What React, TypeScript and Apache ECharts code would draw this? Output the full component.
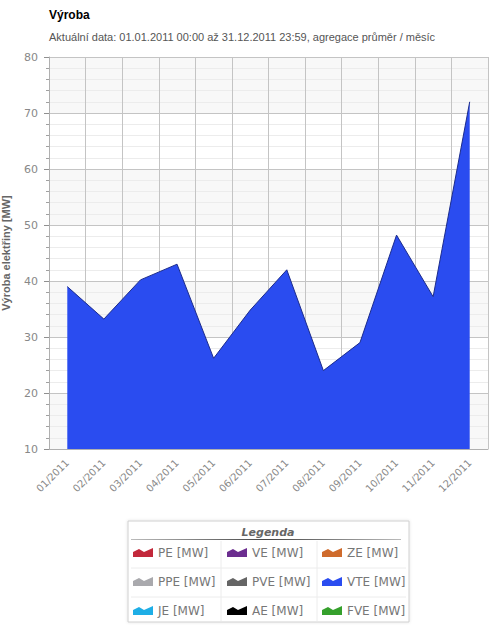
import { useEffect, useRef } from 'react';
import * as echarts from 'echarts';

const months = ['01/2011', '02/2011', '03/2011', '04/2011', '05/2011', '06/2011',
  '07/2011', '08/2011', '09/2011', '10/2011', '11/2011', '12/2011'];
const vteValues = [39, 33.2, 40.2, 43, 26.2, 34.8, 42, 24, 29, 48.2, 37.2, 72];
const legendNames = ['PE [MW]', 'VE [MW]', 'ZE [MW]', 'PPE [MW]', 'PVE [MW]', 'VTE [MW]', 'JE [MW]', 'AE [MW]', 'FVE [MW]'];
const legendColors = ['#c2283b', '#6b2d8f', '#cf6b2c', '#a9a9ad', '#656565', '#2a4cf0', '#1eaee6', '#000000', '#35a02c'];

const FONT = '"Liberation Sans", Arial, sans-serif';
const WIDE = '"DejaVu Sans", Verdana, sans-serif';

const legendGraphic = () => {
  const els: any[] = [
    { type: 'rect', shape: { x: 128, y: 521, width: 281, height: 101 },
      style: { fill: '#fff', stroke: '#d0d0d0', lineWidth: 1, shadowBlur: 3, shadowColor: 'rgba(0,0,0,0.12)' } },
    { type: 'text', x: 268, y: 532, style: { text: 'Legenda', fill: '#666', font: 'italic bold 11px "DejaVu Sans", sans-serif', align: 'center', verticalAlign: 'middle' } },
    { type: 'rect', shape: { x: 131, y: 539, width: 270, height: 1 },
      style: { fill: new echarts.graphic.LinearGradient(0, 0, 1, 0, [
        { offset: 0, color: '#bbb' }, { offset: 0.5, color: '#444' }, { offset: 1, color: '#bbb' }]) } },
    { type: 'line', shape: { x1: 131, y1: 568, x2: 406, y2: 568 }, style: { stroke: '#ececec' } },
    { type: 'line', shape: { x1: 131, y1: 597, x2: 406, y2: 597 }, style: { stroke: '#ececec' } },
    { type: 'line', shape: { x1: 221, y1: 541, x2: 221, y2: 621 }, style: { stroke: '#ececec' } },
    { type: 'line', shape: { x1: 317, y1: 541, x2: 317, y2: 621 }, style: { stroke: '#ececec' } },
  ];
  const colX = [133, 227, 322];
  const rowY = [548, 577, 606];
  legendNames.forEach((name, i) => {
    const x = colX[i % 3];
    const y = rowY[Math.floor(i / 3)];
    els.push({ type: 'polygon', shape: { points: [[x, y + 4], [x + 6, y + 1], [x + 11, y + 4], [x + 20, y], [x + 20, y + 9], [x, y + 9]] },
      style: { fill: legendColors[i] } });
    els.push({ type: 'text', x: x + 25, y: y + 5, style: { text: name, fill: '#777', font: '12px "DejaVu Sans", sans-serif', verticalAlign: 'middle' } });
  });
  return els;
};

const App = () => {
  const chartRef = useRef<HTMLDivElement>(null);

  useEffect(() => {
    if (!chartRef.current) return;
    const chart = echarts.init(chartRef.current, null, { renderer: 'svg' });
    chart.setOption({
      animation: false,
      backgroundColor: '#fff',
      title: {
        text: 'Výroba',
        subtext: 'Aktuální data: 01.01.2011 00:00 až 31.12.2011 23:59, agregace průměr / měsíc',
        left: 44, top: 4, itemGap: 10,
        textStyle: { fontFamily: FONT, fontSize: 12, fontWeight: 'bold', color: '#000' },
        subtextStyle: { fontFamily: FONT, fontSize: 11, color: '#555' },
      },
      grid: { left: 49, top: 57, right: 1, bottom: 176, outerBoundsMode: 'none', containLabel: false },
      xAxis: {
        type: 'category',
        data: months,
        axisLine: { lineStyle: { color: '#b0b0b0' } },
        axisTick: { length: 5, lineStyle: { color: '#909090' } },
        axisLabel: { rotate: 45, fontFamily: WIDE, fontSize: 10, color: '#888', margin: 12 },
        splitLine: { show: true, lineStyle: { color: '#c4c4c4' } },
      },
      yAxis: {
        type: 'value',
        min: 10, max: 80, interval: 10,
        name: 'Výroba elektřiny [MW]',
        nameLocation: 'middle', nameGap: 38,
        nameTextStyle: { fontFamily: FONT, fontSize: 11, fontWeight: 'bold', color: '#666' },
        axisLine: { show: true, lineStyle: { color: '#b0b0b0' } },
        axisTick: { show: true, length: 5, lineStyle: { color: '#909090' } },
        minorTick: { show: true, splitNumber: 5, length: 3, lineStyle: { color: '#a0a0a0' } },
        axisLabel: { fontFamily: WIDE, fontSize: 11, color: '#888', margin: 11 },
        splitLine: { lineStyle: { color: '#c4c4c4' } },
        minorSplitLine: { show: true, lineStyle: { color: '#ececec' } },
        splitArea: { show: true, areaStyle: { color: ['#f8f8f8', '#ffffff'] } },
      },
      series: [{
        name: 'VTE [MW]',
        type: 'line',
        data: vteValues,
        symbol: 'none',
        lineStyle: { color: '#1c2c8c', width: 1 },
        areaStyle: { color: '#2a4cf0', opacity: 1, origin: 'start' },
      }],
      graphic: legendGraphic(),
    });
    return () => chart.dispose();
  }, []);

  return <div ref={chartRef} style={{ position: 'fixed', left: 0, top: 0, width: '489px', height: '625px' }} />;
};

export default App;
